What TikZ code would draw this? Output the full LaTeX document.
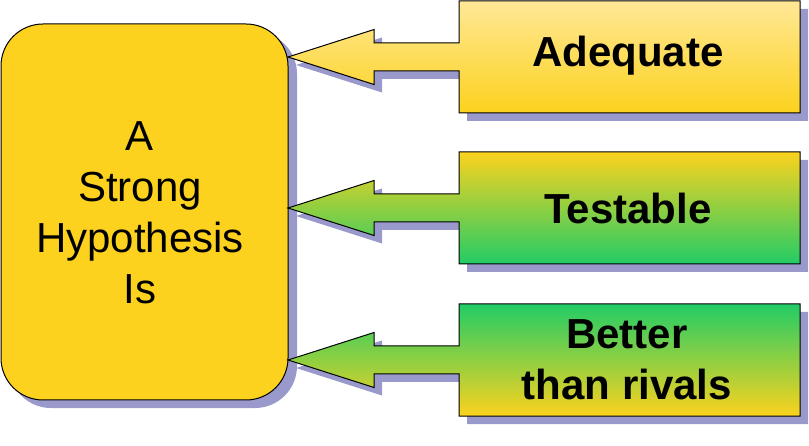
\documentclass[tikz,border=0pt]{standalone}
\usepackage{fontspec}
\setmainfont{Liberation Sans}
\definecolor{shadowc}{RGB}{153,153,204}
\definecolor{gold}{RGB}{252,210,30}
\definecolor{paleyellow}{RGB}{255,232,150}
\definecolor{leaf}{RGB}{34,204,102}
\newcommand\mycallout[3]{%
  \begin{scope}[yshift=-#1pt]
    \fill[shadowc,shift={(8,8)}] (459,0) -- (800,0) -- (800,112) -- (459,112) -- (459,70) -- (374,70) -- (374,83.5) -- (288,56) -- (374,28.5) -- (374,42) -- (459,42) -- cycle;
    \path[draw=black,line width=1pt,line join=miter,top color=#2,bottom color=#3] (459,0) -- (800,0) -- (800,112) -- (459,112) -- (459,70) -- (374,70) -- (374,83.5) -- (288,56) -- (374,28.5) -- (374,42) -- (459,42) -- cycle;
  \end{scope}}
\begin{document}
\begin{tikzpicture}[x=1pt,y=-1pt,
  bigbox/.style={draw=black,line width=1pt,fill=gold,rounded corners=42pt,minimum width=287pt,minimum height=376pt,inner sep=0pt},
  bigtext/.style={align=center,inner sep=0pt,font=\fontsize{42}{51}\selectfont},
  lbl/.style={align=center,inner sep=0pt,font=\bfseries\fontsize{42}{51}\selectfont}]
\useasboundingbox (0,0) rectangle (809,446);
% big box
\fill[shadowc,rounded corners=42pt] (9,32) rectangle (297,408);
\node[bigbox] (hyp) at (144.5,212) {};
\node[bigtext] (hyptext) at (140,213) {A\\Strong\\Hypothesis\\Is};
% callouts
\mycallout{1}{paleyellow}{gold}
\mycallout{152}{gold}{leaf}
\mycallout{304}{leaf}{gold}
\node[lbl] (adq) at (628,56) {Adequate};
\node[lbl] (tst) at (628,208) {Testable};
\node[lbl] (btr) at (627,360) {Better\\than rivals};
\end{tikzpicture}
\end{document}
